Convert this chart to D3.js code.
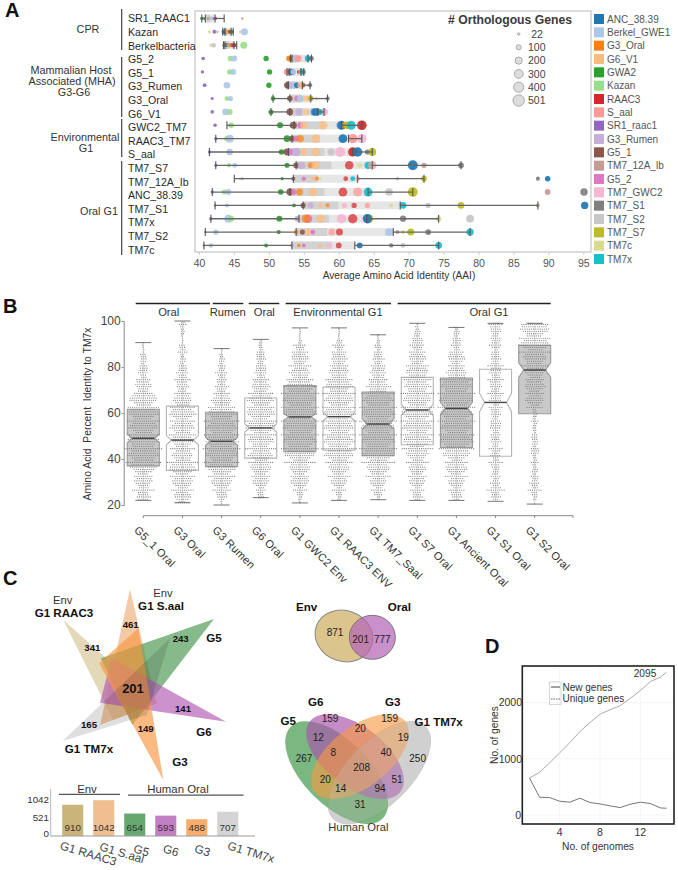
<!DOCTYPE html>
<html><head><meta charset="utf-8">
<script src="https://cdn.jsdelivr.net/npm/d3@7/dist/d3.min.js"></script>
<style>html,body{margin:0;background:#fff}svg{display:block;font-family:"Liberation Sans",Arial,sans-serif}</style>
</head><body><svg id="c" width="678" height="870" viewBox="0 0 678 870"></svg>
<script>
// ---------- Panel A data ----------
const seriesNames=["ANC_38.39","Berkel_GWE1","G3_Oral","G6_V1","GWA2","Kazan","RAAC3","S_aal","SR1_raac1","G3_Rumen","G5_1","TM7_12A_lb","G5_2","TM7_GWC2","TM7_S1","TM7_S2","TM7_S7","TM7c","TM7x"];
const seriesColors=["#1f77b4","#aec7e8","#ff7f0e","#ffbb78","#2ca02c","#98df8a","#d62728","#ff9896","#9467bd","#c5b0d5","#8c564b","#c49c94","#e377c2","#f7b6d2","#7f7f7f","#c7c7c7","#bcbd22","#dbdb8d","#17becf"];
const rowNames=["SR1_RAAC1","Kazan","Berkelbacteria","G5_2","G5_1","G3_Rumen","G3_Oral","G6_V1","GWC2_TM7","RAAC3_TM7","S_aal","TM7_S7","TM7_12A_Ib","ANC_38.39","TM7_S1","TM7x","TM7_S2","TM7c"];
const whiskerLow =[40.4,43.4,43.5,53.1,52.6,52.6,50.6,50.3,44,42.4,41.5,42.4,45.05,41.9,42.3,41.7,40.9,40.7];
const boxQ1      =[40.9,43.7,43.7,53.3,52.9,52.8,53,53,53.6,53.3,52.8,53.9,53.5,53,54.9,54.3,53.9,53.3];
const boxMedian  =[41.6,44.1,44.3,54,53.4,53.6,54.5,55,58,57.4,58,59,57,58,60,58.6,58.4,59];
const boxQ3      =[42.3,44.6,45,55.6,54.6,54.8,56,57,60.4,61.4,62,64.8,62.7,64.2,68.8,64,67.8,62.3];
const whiskerHigh=[43.6,44.9,45.4,56.1,55,55.9,58.4,57.9,63.3,63.3,64.8,77.5,72.2,70.6,88.5,74.3,78.8,74.3];
const rowPoints=[
 [[4,40.4,45],[14,40.5,22],[0,40.8,22],[17,41,22],[11,41.3,40],[7,41.6,40],[1,41.8,60],[13,42,40],[10,42.2,22],[18,42.1,22],[6,42.4,30],[11,46.2,22]],
 [[17,41.5,40],[8,42.2,60],[15,42.6,40],[14,43.5,60],[0,43.7,100],[2,44,70],[3,44.2,80],[10,44.4,60],[4,44.7,70],[13,45.9,30],[1,46.5,190]],
 [[17,41.7,40],[15,42.1,80],[14,43.6,50],[16,43.8,50],[0,44,70],[3,44.3,80],[2,44.5,70],[12,44.7,60],[10,44.9,80],[6,45.1,60],[5,46.4,190]],
 [[8,40.6,50],[5,44.5,110],[1,45.05,130],[4,49.6,110],[2,52.9,130],[10,53.3,120],[3,53.6,130],[1,53.9,190],[7,54.2,170],[18,55.6,160],[14,56.1,90]],
 [[8,40.5,45],[5,44.4,110],[1,44.9,130],[4,50.1,110],[7,52.6,160],[13,52.9,130],[10,53.1,130],[0,53.3,150],[1,53.5,120],[6,54.3,60],[3,54.5,70],[18,54.8,140],[14,55,60]],
 [[8,40.8,55],[1,44,170],[4,50,110],[10,52.6,140],[9,53.1,130],[13,54.7,170],[1,53.8,190],[0,54,120],[6,54.9,70],[3,54.5,150],[14,55.9,70]],
 [[8,41.9,35],[5,44,90],[1,44.5,100],[4,50.6,80],[10,53,120],[12,54,100],[1,54.5,190],[3,55.3,130],[7,55.9,110],[16,56,120],[13,56.8,40],[14,58.4,70]],
 [[8,41.9,50],[1,43.8,170],[5,44.4,130],[4,50.3,100],[10,53,170],[9,54.3,190],[3,55.4,160],[7,57.9,190],[13,57.9,190],[6,57,170],[18,57.3,130],[1,56.4,240],[0,56.6,220]],
 [[8,42.3,50],[5,44.6,120],[4,51.6,140],[10,53.5,190],[12,54.5,130],[3,55,190],[3,57.8,280],[1,60.1,200],[0,60.4,300],[2,60.9,180],[16,61.2,210],[18,61.8,300],[6,63.3,360]],
 [[8,42.4,40],[5,44,110],[1,44.4,240],[4,52.6,170],[10,53.3,130],[12,53.9,100],[2,54.5,200],[3,56.7,290],[0,60.6,300],[7,62,340],[13,63.3,340]],
 [[8,41.5,45],[1,44.4,160],[4,51.8,120],[10,52.6,180],[12,53.2,130],[9,53.9,270],[3,55,190],[3,56.7,280],[15,58.9,200],[13,60.2,390],[6,62,330],[0,62.7,340],[14,64.1,100],[16,64.8,230]],
 [[8,42.4,40],[5,44.3,70],[1,45.1,90],[4,52.6,100],[10,53.9,130],[9,54.7,210],[2,56,140],[3,56.7,260],[6,61.5,280],[17,63,90],[18,64.2,200],[7,64.8,280],[0,70.6,380],[11,72.2,110],[14,77.5,130]],
 [[5,45.9,22],[8,46.2,22],[4,51.9,40],[10,53.5,60],[12,55,70],[3,56.4,70],[2,56.9,70],[17,57.4,22],[6,61,90],[18,62,90],[7,62.7,90],[15,68.4,50],[16,72.2,130],[14,88.5,65],[0,89.9,120]],
 [[8,41.9,45],[5,43.6,90],[1,44.2,130],[4,51.7,120],[10,53,180],[12,53.6,110],[2,54.4,180],[3,56.3,270],[6,60.6,300],[7,62.7,320],[18,64.2,300],[15,67.2,220],[16,70.6,370],[11,89.9,130],[14,95.1,210]],
 [[8,42.3,22],[1,44,60],[4,53.6,60],[10,54.9,100],[9,56,130],[3,57.4,90],[2,58.4,70],[13,60.8,100],[6,62.2,110],[7,64.1,110],[17,67.5,60],[18,69.2,170],[15,72.8,100],[16,77.5,170],[11,88.5,60],[0,95.2,210]],
 [[8,41.7,50],[1,44.2,240],[5,44.6,130],[4,51.5,140],[9,54.1,130],[12,55.6,290],[2,55.3,260],[3,57.4,280],[13,60.4,340],[6,62,340],[16,64.3,300],[0,64.1,340],[14,69.2,150],[17,74.3,110],[15,78.8,230]],
 [[8,40.9,22],[1,42.4,100],[4,51.4,70],[2,53.9,90],[10,54.8,100],[3,55.6,170],[12,56.3,90],[7,59,190],[6,60.1,190],[1,67.2,240],[11,68.4,60],[17,69.2,70],[16,70.3,190],[14,72.8,130],[18,78.8,200]],
 [[8,40.7,22],[1,41.7,80],[4,49.6,60],[9,53.3,60],[2,54.3,55],[12,55,60],[3,57.3,60],[13,58.7,120],[6,60,130],[0,63,130],[14,67.5,70],[15,69.2,90],[18,74.3,170]]
];
const sizeLegendValues=[22,100,200,300,400,501];
const xTicksA=d3.range(40,96,5);
// ---------- Panel B data ----------
const boxNames=["G5_1 Oral","G3 Oral","G3 Rumen","G6 Oral","G1 GWC2 Env","G1 RAAC3 ENV","G1 TM7_Saal","G1 S7 Oral","G1 Ancient Oral","G1 S1 Oral","G1 S2 Oral"];
const boxLo =[22,21,20,23.2,20.9,22,22.3,22,22,21.6,20.4];
const boxLow=[37,35,36.7,40.4,43.2,43.8,41.4,46.2,45,41.2,59.7];
const boxMed=[49,48.2,47.7,53.5,58.3,58.4,55.2,61.3,62,64.6,78.7];
const boxUp =[61.6,63,60.3,66.5,71.9,71.3,69.1,75.5,75.2,79,89.4];
const boxHi =[90.6,100,88,92,97,97,94,99,97.2,99,99];
const boxNotch=[1.8,2,1.7,1.8,1.4,1.8,2.4,2.4,2.7,4,3.2];
const boxFilled=[1,0,1,0,1,0,1,0,1,0,1];
const swarmBinStart=20, swarmBinWidth=2;
const swarmCounts=[
 [0,12,10,16,12,16,14,18,24,26,26,26,28,26,28,24,24,24,24,24,26,22,22,24,14,12,14,10,8,8,6,6,6,2,2,1],
 [10,14,14,16,16,18,18,22,22,22,18,16,18,18,20,20,20,18,18,22,20,18,16,14,12,10,10,12,10,8,6,6,4,8,6,2,2,4,4,6],
 [2,8,10,14,16,18,20,22,24,26,26,28,28,28,26,26,26,24,26,24,22,20,18,14,12,12,8,8,10,6,6,6,4,2,1],
 [0,6,6,8,12,14,14,16,18,18,20,18,22,20,22,22,24,26,22,22,24,20,22,20,18,16,14,12,10,10,8,8,8,6,4,3],
 [2,4,6,10,14,16,14,16,18,22,24,26,28,28,28,28,28,28,28,28,28,28,28,28,28,28,22,20,18,14,16,14,14,12,10,4,2,2,1],
 [0,4,6,10,12,14,16,16,18,20,24,24,26,26,24,24,24,24,26,28,26,24,24,24,24,22,22,20,16,16,14,14,12,10,10,6,2,2,2],
 [0,4,8,10,12,14,18,18,20,24,26,28,28,28,28,28,28,28,28,28,28,28,26,24,24,20,16,14,14,12,10,10,8,6,6,4,2,1],
 [0,8,8,10,12,14,14,14,14,16,16,20,22,24,24,24,24,24,24,26,28,24,22,24,24,22,20,20,18,18,16,14,14,12,12,10,8,6,4,2],
 [0,8,10,12,12,14,16,18,18,16,20,24,26,28,28,26,26,26,28,28,28,28,28,28,28,26,26,24,18,14,12,14,14,10,8,8,6,6,4],
 [0,8,8,14,8,6,8,6,8,10,8,8,10,8,8,8,8,10,8,8,8,10,10,10,12,10,10,12,10,10,12,8,8,6,10,8,8,8,10,10],
 [1,4,6,10,8,6,6,6,4,6,4,8,6,6,6,4,4,4,6,4,4,12,16,14,14,18,16,14,16,18,20,18,20,22,26,24,22,20,26,20]
];
const yTicksB=[20,40,60,80,100];
const boxGroups=[["Oral",0],["Rumen",2],["Oral",3],["Environmental G1",4],["Oral G1",7]];
// ---------- Panel C data ----------
const starSets=["G1 RAAC3","G1 S.aal","G5","G6","G3","G1 TM7x"];
const starColors=["#d9cb9f","#eeb17e","#4c9a52","#b35fb5","#f79a45","#c9c9c9"];
const barValues=[910,1042,654,593,488,707];
const barColors=["#cbb47a","#f0be90","#67a870","#c27fc4","#f9ad6a","#d4d4d4"];
const barTicks=[0,521,1042];
// ---------- Panel D data ----------
const genomes=[1,2,3,4,5,6,7,8,9,10,11,12,13,14,14.6];
const newGenes=[659,317,311,245,228,299,222,198,162,132,192,228,204,126,120];
const uniqueGenes=[659,760,928,1108,1287,1485,1647,1796,1874,1946,2078,2216,2377,2455,2545];
const xTicksD=[4,8,12], yTicksD=[0,1000,2000];

const svg=d3.select("#c");
function T(x,y,s,o={}){const t=svg.append("text").attr("x",x).attr("y",y).attr("dy","0.35em")
  .attr("font-size",o.size||11).attr("fill",o.fill||"#333").attr("text-anchor",o.anchor||"middle")
  .attr("font-weight",o.weight||"normal").text(s);
  if(o.rot)t.attr("transform",`rotate(${o.rot} ${x} ${y})`);
  if(o.ls)t.attr("letter-spacing",o.ls);
  if(o.style)t.attr("font-style",o.style);return t;}
function L(x1,y1,x2,y2,c,w){svg.append("line").attr("x1",x1).attr("y1",y1).attr("x2",x2).attr("y2",y2).attr("stroke",c).attr("stroke-width",w);}

// Panel letters
T(5,10,"A",{size:20,weight:"bold",anchor:"start",fill:"#111"});
T(3,306,"B",{size:20,weight:"bold",anchor:"start",fill:"#111"});
T(3,578,"C",{size:20,weight:"bold",anchor:"start",fill:"#111"});
T(485,646,"D",{size:20,weight:"bold",anchor:"start",fill:"#111"});

// ====== Panel A ======
const xA=d3.scaleLinear().domain([40,95]).range([199,583.3]);
const yA=d3.scaleBand().domain(rowNames).range([11.8,252.1]);
const rA=d3.scaleSqrt().domain([0,501]).range([0,5.7]);
const colorA=d3.scaleOrdinal(seriesNames,seriesColors);
svg.append("rect").attr("x",195).attr("y",11).attr("width",396).attr("height",241).attr("fill","#fff").attr("stroke","#d0d0d0").attr("stroke-width",1.5);
const axA=svg.append("g").attr("transform","translate(0,252)").call(d3.axisBottom(xA).tickValues(xTicksA).tickSize(3).tickPadding(5));
axA.select(".domain").remove();
axA.selectAll("line").attr("stroke","#ccc");
axA.selectAll("text").attr("font-size",10.5).attr("font-family","Liberation Sans").attr("fill","#555");
T(399,275,"Average Amino Acid Identity (AAI)",{size:10.2,fill:"#333"});
rowNames.forEach((r,i)=>{
  const cy=yA(r)+yA.bandwidth()/2;
  const h=8;
  const g=svg.append("g");
  g.append("rect").attr("x",xA(boxQ1[i])).attr("y",cy-h/2).attr("width",xA(boxMedian[i])-xA(boxQ1[i])).attr("height",h).attr("fill","#d2d2d2");
  g.append("rect").attr("x",xA(boxMedian[i])).attr("y",cy-h/2).attr("width",xA(boxQ3[i])-xA(boxMedian[i])).attr("height",h).attr("fill","#e6e6e6");
  g.selectAll("circle").data(rowPoints[i]).join("circle")
    .attr("cx",d=>xA(d[1])).attr("cy",cy).attr("r",d=>rA(d[2]))
    .attr("fill",d=>colorA(seriesNames[d[0]])).attr("fill-opacity",d=>(d[0]==6&&i>=11)||d[0]==7&&i>=11||d[0]==3||d[0]==2&&i>=8?0.72:0.92);
  const wc="#666";
  L(xA(whiskerLow[i]),cy,xA(boxQ1[i]),cy,wc,1.3);
  L(xA(boxQ3[i]),cy,xA(whiskerHigh[i]),cy,wc,1.3);
  [whiskerLow[i],boxQ1[i],boxQ3[i],whiskerHigh[i]].forEach(v=>L(xA(v),cy-h/2,xA(v),cy+h/2,"#555",1.1));
});
// row labels and brackets
rowNames.forEach((r,i)=>T(128,18.6+i*13.6,r,{size:10.6,anchor:"start",fill:"#2a2a2a"}));
[[9,50],[57,117],[119,157],[161,255]].forEach(b=>L(121.7,b[0],121.7,b[1],"#444",1.2));
T(88,29,"CPR",{size:10.8});
T(71,70,"Mammalian Host",{size:10.8});T(72,81,"Associated (MHA)",{size:10.8});T(74,92,"G3-G6",{size:10.8});
T(85,137,"Environmental",{size:10.8});T(86,148,"G1",{size:10.8});T(99,211,"Oral G1",{size:10.8});
// size legend
T(510,20,"# Orthologous Genes",{size:12.2,weight:"bold",fill:"#3a3a3a"});
const yLegSize=d3.scaleLinear().domain([0,5]).range([34,100.5]);
sizeLegendValues.forEach((v,i)=>{
  svg.append("circle").attr("cx",518.7).attr("cy",yLegSize(i)).attr("r",rA(v)).attr("fill","#ddd").attr("stroke","#aaa").attr("stroke-width",1);
  T(536,yLegSize(i),v,{size:10.5,anchor:i==0?"middle":"start",fill:"#444"}).attr("x",i==0?537:528);
});
// color legend
const yLegCol=d3.scaleLinear().domain([0,18]).range([19,259]);
seriesNames.forEach((n,i)=>{
  svg.append("rect").attr("x",594).attr("y",yLegCol(i)-5).attr("width",10).attr("height",10).attr("fill",seriesColors[i]);
  T(607,yLegCol(i),n,{size:10,anchor:"start",fill:"#555"});
});

// ====== Panel B ======
const yB=d3.scaleLinear().domain([20,100]).range([505,321]);
const xB=d3.scaleLinear().domain([0,10]).range([143.3,534.7]);
const axYB=svg.append("g").attr("transform","translate(123.7,0)").call(d3.axisLeft(yB).tickValues(yTicksB).tickSize(2).tickPadding(1));
axYB.selectAll("path,line").attr("stroke","#888");
axYB.selectAll("text").attr("font-size",12).attr("font-family","Liberation Sans").attr("fill","#444");
T(87.7,414,"Amino Acid  Percent  Identity to TM7x",{size:10.4,rot:-90}).style("white-space","pre");
L(143.3,515.7,573,515.7,"#888",1);
d3.range(0,11).forEach(i=>L(xB(i),515.7,xB(i),518,"#888",1));
L(573,515.7,573,518,"#888",1);
boxNames.forEach((n,i)=>{
  T(xB(i)-7,528,n,{size:11,anchor:"start",rot:45,fill:"#333",ls:0.2});
  const cx=xB(i),hw=16,nd=5,ny=boxNotch[i];
  const g=svg.append("g");
  const path=d3.line()([[cx-hw,yB(boxLow[i])],[cx-hw,yB(boxMed[i]-ny)],[cx-hw+nd,yB(boxMed[i])],[cx-hw,yB(boxMed[i]+ny)],[cx-hw,yB(boxUp[i])],
    [cx+hw,yB(boxUp[i])],[cx+hw,yB(boxMed[i]+ny)],[cx+hw-nd,yB(boxMed[i])],[cx+hw,yB(boxMed[i]-ny)],[cx+hw,yB(boxLow[i])]])+"Z";
  g.append("path").attr("d",path).attr("fill",boxFilled[i]?"#c9c9c9":"#fff").attr("stroke",boxFilled[i]?"#9a9a9a":"#b5b5b5").attr("stroke-width",1.1);
  L(cx,yB(boxLo[i]),cx,yB(boxHi[i]),"#bbb",0.6);
  L(cx-8,yB(boxLo[i]),cx+8,yB(boxLo[i]),"#666",0.9);
  L(cx-8,yB(boxHi[i]),cx+8,yB(boxHi[i]),"#666",0.9);
  // swarm rows from the per-bin counts: rows staggered, widths alternate
  const dots=[];
  swarmCounts[i].forEach((c,b)=>{
    if(!c)return;
    const v=swarmBinStart+b*swarmBinWidth;
    const a=Math.round(c*(b%3==0?0.66:(b%3==1?0.42:0.54))),bb=c-a;
    [[a,v+0.5,0],[bb,v+1.5,1.1]].forEach(([k,val,off])=>{
      const vv=Math.max(boxLo[i],Math.min(boxHi[i],val));
      for(let j=0;j<k;j++)dots.push([cx+off*(b%2?1:-1)*0.5+(j-(k-1)/2)*2.15,yB(vv)]);
    });
  });
  g.selectAll("circle").data(dots).join("circle").attr("cx",d=>d[0]).attr("cy",d=>d[1]).attr("r",0.62).attr("fill","#7d7d7d");
  L(cx-hw+nd,yB(boxMed[i]),cx+hw-nd,yB(boxMed[i]),"#444",1.4);
});
[[135.7,210],[212.7,243.3],[248.7,279.3],[285.7,391],[397.7,550.7]].forEach(s=>L(s[0],303.5,s[1],303.5,"#222",1.4));
[[168.7],[227.7],[264.3],[338],[489]].forEach((p,i)=>T(p[0],312.5,boxGroups[i][0],{size:11.2,fill:"#333"}));

// ====== Panel C ======
// Star Venn: geometry is given in a local frame and mapped through scales
const sx=d3.scaleLinear().domain([0,270]).range([0,90]);
const sy=d3.scaleLinear().domain([0,310]).range([560,663.33]);
const starShapes=[
 [[190,180],[470,430],[340,480]],
 [[390,88],[470,430],[300,495]],
 [[642,177],[303,295],[397,495]],
 [[678,485],[300,428],[335,295]],
 [[490,660],[297,310],[415,205]],
 [[188,543],[510,235],[440,465]]
];
const sg=svg.append("g").style("isolation","isolate");
starShapes.forEach((tri,i)=>{
  sg.append("path").attr("d",d3.line().x(d=>sx(d[0])).y(d=>sy(d[1]))(tri)+"Z")
    .attr("fill",starColors[i]).attr("fill-opacity",i==5?0.6:(i==0?0.75:0.68))
    .style("mix-blend-mode",i==5?"multiply":"normal");
});
T(62.7,600,"Env",{size:11.2});T(64,613,"G1 RAAC3",{size:11.6,weight:"bold",fill:"#111"});
T(163,593,"Env",{size:11.2});T(161,606,"G1 S.aal",{size:11.6,weight:"bold",fill:"#111"});
T(214,638,"G5",{size:11.6,weight:"bold",fill:"#111"});T(204,732,"G6",{size:11.6,weight:"bold",fill:"#111"});
T(180,762,"G3",{size:11.6,weight:"bold",fill:"#111"});T(89,749,"G1 TM7x",{size:11.6,weight:"bold",fill:"#111"});
T(133,688.5,"201",{size:13,weight:"bold",fill:"#111"});
[["461",392,195],["341",277,264],["243",542,236],["141",549,447],["149",437,507],["165",267,493]].forEach(d=>T(d[1]/3,560+d[2]/3,d[0],{size:9.6,weight:"bold",fill:"#111"}));

// bars
const xBar=d3.scaleBand().domain(starSets).range([56,244.5]).paddingInner(0.32).paddingOuter(0.2);
const yBar=d3.scaleLinear().domain([0,1042]).range([836,800.2]);
svg.selectAll(".bar").data(barValues).join("rect").attr("x",(d,i)=>xBar(starSets[i])).attr("y",d=>yBar(d)).attr("width",xBar.bandwidth()).attr("height",d=>836-yBar(d)).attr("fill",(d,i)=>barColors[i]);
barValues.forEach((v,i)=>T(xBar(starSets[i])+xBar.bandwidth()/2,828,v,{size:9.8,fill:"#333"}));
L(50.7,789,50.7,836,"#bbb",1);L(50.7,836,255,836,"#999",1.2);
barTicks.forEach(v=>T(49,v==0?834:yBar(v)-1,v,{size:9.8,anchor:"end",fill:"#333"}));
[[60.5,845],[100,846],[134,848],[163.5,848],[195,848],[228,845]].forEach((p,i)=>T(p[0],p[1],starSets[i],{size:11.8,anchor:"start",rot:17,fill:"#444",style:"normal"}));
L(59,794.3,120,794.3,"#555",1.2);L(128,795.2,243.5,795.2,"#555",1.2);
T(87,789,"Env",{size:11.4,fill:"#333"});T(178,789.5,"Human Oral",{size:11.4,fill:"#333"});

// two-set Venn
const vx=d3.scaleLinear().domain([0,408]).range([270,406]);
const vy=d3.scaleLinear().domain([0,310]).range([560,663.33]);
function ell(g,cx,cy,rx,ry,rot,fill,op,stroke){
  g.append("ellipse").attr("cx",0).attr("cy",0).attr("rx",rx/3).attr("ry",ry/3)
   .attr("transform",`translate(${vx(cx)},${vy(cy)}) rotate(${rot})`)
   .attr("fill",fill).attr("fill-opacity",op).attr("stroke",stroke||"none").attr("stroke-width",stroke?1:0);
}
const g2=svg.append("g");
ell(g2,222,228,88,76,20,"#dcc48d",1,"#888");
ell(g2,307,232,69,66,0,"#b565b8",0.72,"#777");
T(vx(110),vy(140),"Env",{size:11.6,weight:"bold",fill:"#111"});T(vx(388),vy(140),"Oral",{size:11.6,weight:"bold",fill:"#111"});
[["871",195,218],["201",272,238],["777",337,238]].forEach(d=>T(vx(d[1]),vy(d[2]),d[0],{size:10,fill:"#222"}));

// four-set Venn
const g4=svg.append("g");
ell(g4,328,638,195,95,-45,"#c6c6c6",0.75,"#ccc");
ell(g4,200,638,195,98,45,"#5aa560",0.8);
ell(g4,255,590,172,90,38,"#a956ab",0.68);
ell(g4,270,590,172,90,-38,"#f89a42",0.62);
ell(g4,328,638,195,95,-45,"#c6c6c6",0.28);
T(vx(55),vy(484),"G5",{size:11.6,weight:"bold",fill:"#111"});T(vx(137),vy(427),"G6",{size:11.6,weight:"bold",fill:"#111"});
T(vx(368),vy(427),"G3",{size:11.6,weight:"bold",fill:"#111"});T(vx(506),vy(486),"G1 TM7x",{size:11.6,weight:"bold",fill:"#111"});
T(vx(265),vy(800),"Human Oral",{size:11.2,fill:"#333"});
[["159",180,477],["159",359,477],["12",145,533],["20",271,505],["19",400,533],["267",102,596],["8",190,578],["40",348,578],["250",443,596],["208",275,623],["20",166,660],["51",381,660],["14",212,686],["94",330,686],["31",270,733]]
 .forEach(d=>T(vx(d[1]),vy(d[2]),d[0],{size:10,fill:"#222"}));

// ====== Panel D ======
const xD=d3.scaleLinear().domain([4,12]).range([559.7,640.3]);
const yD=d3.scaleLinear().domain([0,2000]).range([815,702.7]);
xTicksD.forEach(v=>L(xD(v),667,xD(v),823,"#f3f3f3",0.8));
yTicksD.forEach(v=>L(523,yD(v),673,yD(v),"#f3f3f3",0.8));
const ln=d3.line().x((d,i)=>xD(genomes[i])).y(d=>yD(d));
svg.append("path").datum(uniqueGenes).attr("d",ln).attr("fill","none").attr("stroke","#aaa").attr("stroke-width",1);
svg.append("path").datum(newGenes).attr("d",ln).attr("fill","none").attr("stroke","#777").attr("stroke-width",1);
svg.append("rect").attr("x",522.3).attr("y",666).attr("width",151.7).attr("height",158).attr("fill","none").attr("stroke","#222").attr("stroke-width",1.6);
xTicksD.forEach(v=>T(xD(v),832.5,v,{size:10.5,fill:"#333"}));
yTicksD.forEach(v=>T(v==0?521:522,yD(v),v,{size:10.5,anchor:"end",fill:"#333"}));
T(598,846.5,"No. of genomes",{size:10.2,fill:"#333"});
T(494,735,"No. of genes",{size:10.2,rot:-90,fill:"#333"});
T(645,673,"2095",{size:10.2,fill:"#333"});
svg.append("rect").attr("x",549.5).attr("y",682).attr("width",11.5).attr("height",22.5).attr("fill","none").attr("stroke","#ccc").attr("stroke-width",0.8);
L(551,687,560,687,"#444",1);
svg.append("line").attr("x1",551).attr("y1",699).attr("x2",560).attr("y2",699).attr("stroke","#666").attr("stroke-dasharray","1.5,1").attr("stroke-width",1);
T(562.5,687,"New genes",{size:10,anchor:"start",fill:"#333"});
T(562.5,698.5,"Unique genes",{size:10,anchor:"start",fill:"#333"});
</script></body></html>
